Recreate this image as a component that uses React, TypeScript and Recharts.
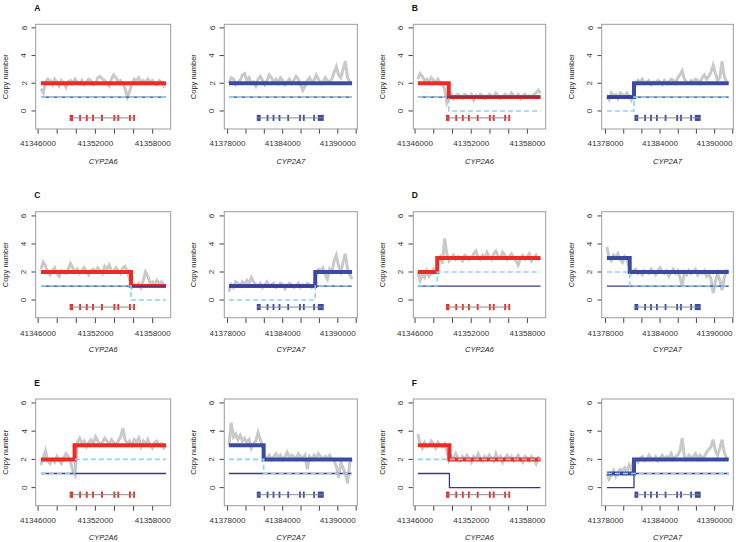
import React from 'react';
import { LineChart, Line, XAxis, YAxis, ReferenceArea, ReferenceLine } from 'recharts';

const PANEL_LABELS = ['A', 'B', 'C', 'D', 'E', 'F'];
const GENES = ['CYP2A6', 'CYP2A7'];

// first / last window of each gene region
const SPAN_2A6 = [41346300, 41359400];
const SPAN_2A7 = [41378150, 41391550];
const XDOMAIN_2A6 = [41345780, 41359920];
const XDOMAIN_2A7 = [41377610, 41392090];
const YDOMAIN = [-1.28, 6.28];
const Y_TICKS = [0, 2, 4, 6];
const X_TICKS_2A6 = [41346000, 41348000, 41350000, 41352000, 41354000, 41356000, 41358000];
const X_LABELS_2A6 = [41346000, 41352000, 41358000];
const X_TICKS_2A7 = [41378000, 41380000, 41382000, 41384000, 41386000, 41388000, 41390000, 41392000];
const X_LABELS_2A7 = [41378000, 41384000, 41390000];

// exons (start, end)
const EXONS_2A6 = [
  [41349310, 41349670], [41350300, 41350500], [41351000, 41351200], [41351650, 41351850],
  [41352590, 41352790], [41353890, 41354090], [41354300, 41354500], [41355520, 41355720], [41355960, 41356160],
];
const EXONS_2A7 = [
  [41381180, 41381600], [41382250, 41382450], [41382900, 41383100], [41383550, 41383750],
  [41384500, 41384700], [41385780, 41385980], [41386200, 41386400], [41387320, 41387520], [41387820, 41388470],
];

// raw copy-number windows
const RAW_A6 = [1.6, 1.3, 2.1, 2.3, 2.2, 1.9, 2.3, 2.1, 1.8, 2.2, 2.0, 1.7, 2.1, 2.2, 2.0, 2.3, 2.1, 2.0, 2.2, 1.9, 2.1, 2.3, 2.2, 1.9, 2.0, 2.4, 2.5, 2.3, 2.2, 2.0, 1.8, 2.3, 2.6, 2.4, 2.1, 2.2, 2.0, 1.6, 1.0, 1.4, 2.0, 2.3, 2.2, 2.4, 2.1, 2.2, 2.0, 2.3, 2.1, 2.2, 2.0, 1.9, 2.2, 2.1, 1.8, 2.0];
const RAW_A7 = [2.0, 2.4, 2.3, 1.9, 2.1, 2.2, 2.6, 2.7, 2.2, 2.4, 2.0, 2.1, 1.8, 2.3, 2.5, 2.2, 1.9, 2.2, 2.6, 2.4, 2.1, 2.3, 2.0, 2.4, 2.2, 1.9, 2.1, 2.3, 2.0, 2.2, 2.5, 2.3, 1.9, 1.5, 1.8, 2.2, 2.4, 2.1, 2.2, 2.6, 2.3, 2.0, 2.1, 2.4, 2.2, 2.1, 2.3, 2.8, 3.2, 2.6, 2.4, 3.0, 3.6, 2.4, 2.1, 2.0];
const RAW_B6 = [2.3, 2.7, 2.5, 2.2, 2.3, 2.1, 2.4, 2.2, 2.1, 2.3, 2.0, 1.9, 1.6, 0.6, 1.0, 1.2, 0.9, 1.1, 1.2, 1.0, 0.9, 1.2, 1.1, 1.0, 1.2, 0.8, 1.1, 1.0, 1.2, 1.1, 0.9, 1.0, 1.2, 1.1, 1.0, 1.3, 1.1, 0.9, 1.0, 1.2, 1.1, 1.0, 1.3, 1.1, 1.0, 1.2, 0.9, 1.1, 1.2, 1.0, 1.1, 1.0, 1.2, 1.3, 1.5, 1.3];
const RAW_B7 = [1.0, 0.8, 1.3, 1.1, 1.2, 0.9, 1.3, 1.2, 1.0, 1.3, 1.1, 0.8, 1.2, 2.0, 2.2, 2.1, 2.3, 2.0, 2.1, 2.2, 1.9, 2.1, 2.0, 2.2, 2.1, 1.9, 2.2, 2.0, 2.1, 2.3, 2.2, 2.0, 2.4, 2.6, 2.9, 2.3, 2.1, 2.0, 2.2, 2.1, 2.3, 2.2, 2.0, 2.4, 2.6, 2.3, 2.5, 2.8, 3.3, 2.7, 2.2, 2.4, 3.6, 2.5, 2.1, 2.0];
const RAW_C6 = [2.2, 2.7, 2.4, 2.0, 1.8, 2.1, 2.3, 1.9, 1.7, 2.1, 2.0, 1.9, 2.2, 2.6, 2.3, 2.0, 2.2, 1.9, 2.1, 2.3, 2.0, 1.8, 2.1, 2.2, 2.0, 2.3, 2.1, 1.9, 2.4, 2.2, 2.5, 2.1, 2.0, 2.3, 2.1, 1.9, 2.3, 2.4, 2.0, 1.5, 0.9, 1.1, 1.0, 1.2, 0.9, 1.4, 2.0, 1.7, 1.2, 1.3, 1.1, 1.4, 1.2, 1.3, 1.1, 1.0];
const RAW_C7 = [0.6, 1.1, 0.9, 1.3, 1.2, 1.0, 1.3, 1.1, 1.4, 1.2, 1.6, 1.3, 1.1, 1.0, 1.2, 0.9, 1.1, 1.3, 1.0, 1.1, 1.2, 0.9, 1.0, 1.2, 1.1, 0.8, 1.0, 1.2, 1.1, 0.9, 1.0, 1.2, 0.9, 1.1, 1.0, 1.2, 1.1, 0.9, 1.0, 2.0, 2.2, 2.1, 2.3, 1.8, 1.5, 2.2, 2.0, 2.8, 3.2, 2.4, 2.0, 2.7, 3.3, 2.2, 1.8, 1.5];
const RAW_D6 = [2.0, 1.4, 1.8, 1.6, 2.1, 1.7, 1.9, 2.2, 2.0, 2.9, 3.1, 2.6, 4.4, 3.3, 2.8, 3.0, 3.2, 2.9, 3.1, 3.0, 2.8, 3.2, 3.1, 2.9, 3.0, 3.3, 3.5, 3.1, 2.9, 3.2, 3.0, 3.4, 3.1, 2.9, 3.3, 3.5, 3.1, 3.0, 3.4, 3.2, 2.9, 3.1, 3.3, 3.0, 2.8, 2.5, 3.0, 3.2, 2.9, 3.1, 3.3, 2.8, 3.0, 3.2, 2.9, 3.0];
const RAW_D7 = [3.8, 3.0, 2.8, 3.2, 3.0, 3.3, 2.9, 2.7, 3.1, 2.9, 2.4, 1.9, 2.1, 2.2, 1.9, 2.0, 1.8, 2.1, 2.0, 1.9, 2.2, 2.0, 1.8, 2.1, 2.3, 2.0, 1.9, 2.1, 1.7, 2.0, 2.2, 1.9, 2.1, 1.6, 1.0, 2.0, 1.8, 2.1, 1.9, 2.0, 2.2, 1.8, 2.0, 1.9, 2.1, 1.7, 1.9, 1.5, 0.5, 1.3, 1.9, 1.4, 0.7, 1.6, 2.1, 2.0];
const RAW_E6 = [1.6, 2.1, 2.6, 1.9, 1.7, 2.0, 1.8, 2.2, 1.9, 1.7, 2.1, 2.4, 2.2, 1.8, 1.2, 0.9, 3.2, 3.5, 3.1, 3.3, 2.9, 3.2, 3.4, 3.1, 3.6, 3.3, 3.0, 3.2, 3.5, 3.3, 3.1, 3.4, 3.2, 3.0, 3.3, 3.6, 4.2, 3.4, 3.1, 3.3, 3.0, 3.4, 3.2, 3.5, 2.9, 3.3, 3.1, 3.4, 3.0, 2.8, 3.2, 3.3, 3.0, 3.1, 2.8, 3.0];
const RAW_E7 = [3.0, 4.6, 3.6, 3.8, 3.4, 3.7, 3.3, 3.5, 3.2, 3.4, 2.8, 3.1, 3.3, 3.9, 3.4, 3.0, 2.2, 2.1, 2.3, 2.0, 2.2, 2.4, 2.1, 2.3, 2.0, 2.2, 2.5, 2.1, 2.3, 2.2, 2.0, 2.4, 2.2, 2.1, 2.3, 1.3, 2.2, 2.0, 2.3, 2.1, 2.4, 2.2, 2.0, 2.2, 2.1, 2.3, 2.0, 1.9, 1.5, 0.7, 1.8, 1.4, 1.0, 0.3, 1.8, 2.0];
const RAW_F6 = [3.8, 3.1, 2.8, 3.2, 2.9, 3.0, 3.3, 3.1, 2.8, 3.2, 3.0, 2.9, 3.1, 2.6, 1.9, 2.2, 2.0, 2.4, 2.1, 1.9, 2.2, 2.0, 2.3, 2.1, 1.8, 2.2, 2.0, 2.4, 2.1, 1.9, 2.2, 2.0, 2.3, 2.1, 1.9, 2.4, 2.0, 2.2, 1.8, 2.1, 2.3, 2.0, 2.2, 1.9, 2.1, 2.3, 2.0, 1.8, 2.2, 2.1, 1.9, 2.2, 2.0, 1.7, 2.1, 1.9];
const RAW_F7 = [1.0, 0.6, 0.9, 1.2, 0.8, 1.1, 1.3, 1.2, 1.4, 1.1, 1.6, 1.3, 1.9, 2.0, 1.8, 2.1, 2.2, 1.9, 2.0, 2.3, 2.1, 2.0, 2.2, 1.9, 2.1, 2.3, 2.0, 2.2, 2.1, 2.4, 2.0, 2.2, 2.3, 2.6, 3.5, 2.2, 2.0, 2.3, 2.1, 2.2, 2.4, 2.0, 2.3, 2.1, 2.2, 2.5, 2.7, 2.9, 3.4, 2.6, 2.3, 2.8, 3.4, 2.5, 2.1, 2.0];
const RAW_2A6 = [RAW_A6, RAW_B6, RAW_C6, RAW_D6, RAW_E6, RAW_F6];
const RAW_2A7 = [RAW_A7, RAW_B7, RAW_C7, RAW_D7, RAW_E7, RAW_F7];

// breakpoints and [before, after] levels per panel
const BREAK_2A6 = [null, 41349600, 41355730, 41348370, 41349820, 41349670];
const BREAK_2A7 = [null, 41381130, 41387545, 41380660, 41381925, 41381130];
const EST_2A6 = [[2, 2], [2, 1], [2, 1], [2, 3], [2, 3], [3, 2]];
const EST_2A7 = [[2, 2], [1, 2], [1, 2], [3, 2], [3, 2], [1, 2]];
const PARALOG_2A6 = [[1, 1], [1, 0], [1, 0], [1, 2], [1, 2], [2, 2]];
const PARALOG_2A7 = [[1, 1], [0, 1], [0, 1], [2, 1], [2, 1], [1, 1]];
const HYBRID_2A6 = [[1, 1], [1, 1], [1, 1], [1, 1], [1, 1], [1, 0]];
const HYBRID_2A7 = [[1, 1], [1, 1], [1, 1], [1, 1], [1, 1], [0, 1]];

const COL_LEFT = [35.7, 224.3, 413.3, 601.7];
const COL_WIDTH = [135, 133, 132.4, 131.6];
const ROW_TOP = [24.3, 211.7, 399];
const ROW_HEIGHT = [104.7, 106, 106.7];

const RED = '#ee2a24';
const BLUE = '#3b4ba3';
const RAW_GRAY = '#c9c9c9';
const SKY = '#8dd3ee';
const NAVY = '#3a378c';
const FONT = 'Liberation Sans, Arial, Helvetica, sans-serif';
const Y_AXIS_W = 40;
const X_AXIS_H = 30;
const M = { top: 10, left: 0, right: 6, bottom: 0 };

const rawData = (vals: number[], span: number[]) =>
  vals.map((y, i) => ({ x: span[0] + (i * (span[1] - span[0])) / (vals.length - 1), y }));

const stepData = (span: number[], bp: number | null, lv: number[]) =>
  bp == null
    ? [{ x: span[0], y: lv[0] }, { x: span[1], y: lv[1] }]
    : [{ x: span[0], y: lv[0] }, { x: bp, y: lv[1] }, { x: span[1], y: lv[1] }];

const YTick = (props: any) => {
  const { x, y, payload } = props;
  return (
    <text x={x} y={y} transform={`rotate(-90 ${x} ${y})`} textAnchor="middle" fontSize={8.1} fill="#333" fontFamily={FONT}>
      {payload.value}
    </text>
  );
};

interface GeneProps {
  p: number;
  g: number;
}

const GenePanel: React.FC<GeneProps> = ({ p, g }) => {
  const row = Math.floor(p / 2);
  const col = (p % 2) * 2 + g;
  const w = COL_WIDTH[col];
  const h = ROW_HEIGHT[row];
  const is6 = g === 0;
  const span = is6 ? SPAN_2A6 : SPAN_2A7;
  const bp = is6 ? BREAK_2A6[p] : BREAK_2A7[p];
  const color = is6 ? RED : BLUE;
  const exons = is6 ? EXONS_2A6 : EXONS_2A7;
  const labels = is6 ? X_LABELS_2A6 : X_LABELS_2A7;
  const raw = rawData(is6 ? RAW_2A6[p] : RAW_2A7[p], span);
  const est = stepData(span, bp, is6 ? EST_2A6[p] : EST_2A7[p]);
  const par = stepData(span, bp, is6 ? PARALOG_2A6[p] : PARALOG_2A7[p]);
  const hyb = stepData(span, bp, is6 ? HYBRID_2A6[p] : HYBRID_2A7[p]);

  return (
    <div style={{ position: 'absolute', left: COL_LEFT[col] - Y_AXIS_W, top: ROW_TOP[row] - M.top }}>
      <LineChart width={Y_AXIS_W + w + M.right} height={M.top + h + X_AXIS_H} margin={M}>
        <XAxis
          type="number"
          dataKey="x"
          domain={is6 ? XDOMAIN_2A6 : XDOMAIN_2A7}
          allowDataOverflow
          ticks={is6 ? X_TICKS_2A6 : X_TICKS_2A7}
          interval={0}
          height={X_AXIS_H}
          axisLine={false}
          tickLine={{ stroke: '#444' }}
          tickSize={5}
          tickMargin={7}
          tickFormatter={(v: number) => (labels.includes(v) ? String(v) : '')}
          tick={{ fontSize: 8.1, fill: '#333', fontFamily: FONT }}
        />
        <YAxis
          type="number"
          domain={YDOMAIN}
          allowDataOverflow
          ticks={Y_TICKS}
          interval={0}
          width={Y_AXIS_W}
          axisLine={false}
          tickLine={{ stroke: '#444' }}
          tickSize={4.5}
          tickMargin={5}
          tick={YTick}
        />
        <ReferenceLine
          segment={[{ x: exons[0][0], y: -0.5 }, { x: exons[exons.length - 1][1], y: -0.5 }]}
          stroke="#8a8a8a"
          strokeWidth={1}
        />
        {exons.map((e, i) => (
          <ReferenceArea key={i} x1={e[0]} x2={e[1]} y1={-0.72} y2={-0.28} fill={color} fillOpacity={1} stroke="none" />
        ))}
        <Line data={raw} dataKey="y" stroke={RAW_GRAY} strokeWidth={3} dot={false} isAnimationActive={false} />
        <Line data={est} dataKey="y" type="stepAfter" stroke={color} strokeWidth={4} dot={false} isAnimationActive={false} />
        <Line data={hyb} dataKey="y" type="stepAfter" stroke={NAVY} strokeWidth={1.3} dot={false} isAnimationActive={false} />
        <Line data={par} dataKey="y" type="stepAfter" stroke={SKY} strokeWidth={1.6} strokeDasharray="5 3" dot={false} isAnimationActive={false} />
      </LineChart>
    </div>
  );
};

export default function App() {
  const overlay: React.ReactNode[] = [];
  PANEL_LABELS.forEach((lab, p) => {
    const row = Math.floor(p / 2);
    const top = ROW_TOP[row];
    const h = ROW_HEIGHT[row];
    const firstCol = (p % 2) * 2;
    overlay.push(
      <text key={`l${p}`} x={COL_LEFT[firstCol] - 1.5} y={top - 13.5} fontSize={8.5} fontWeight="bold" fill="#111" fontFamily={FONT}>
        {lab}
      </text>
    );
    GENES.forEach((gene, g) => {
      const col = firstCol + g;
      const left = COL_LEFT[col];
      const w = COL_WIDTH[col];
      overlay.push(
        <rect key={`f${p}${g}`} x={left} y={top} width={w} height={h} fill="none" stroke="#9c9c9c" strokeWidth={1} />,
        <text
          key={`y${p}${g}`}
          x={left - 28}
          y={top + h / 2}
          transform={`rotate(-90 ${left - 28} ${top + h / 2})`}
          textAnchor="middle"
          fontSize={7.5}
          fill="#222"
          fontFamily={FONT}
        >
          Copy number
        </text>,
        <text key={`x${p}${g}`} x={left + w / 2} y={top + h + 34.5} textAnchor="middle" fontSize={7.5} fontStyle="italic" fill="#222" fontFamily={FONT}>
          {gene}
        </text>
      );
    });
  });

  return (
    <div style={{ position: 'absolute', left: 0, top: 0, width: 736, height: 542, background: '#fff', overflow: 'hidden' }}>
      {PANEL_LABELS.map((_, p) => (
        <React.Fragment key={p}>
          <GenePanel p={p} g={0} />
          <GenePanel p={p} g={1} />
        </React.Fragment>
      ))}
      <svg width={736} height={542} style={{ position: 'absolute', left: 0, top: 0, pointerEvents: 'none' }}>
        {overlay}
      </svg>
    </div>
  );
}
